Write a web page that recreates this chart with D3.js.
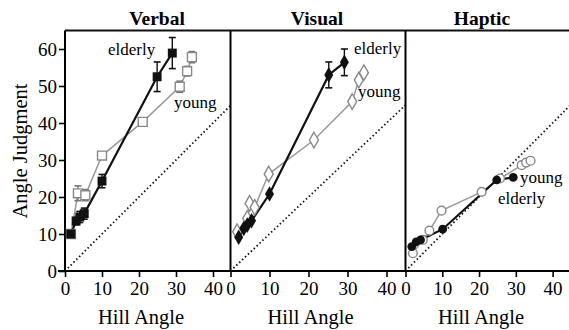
<!DOCTYPE html>
<html>
<head>
<meta charset="utf-8">
<script src="https://cdn.jsdelivr.net/npm/d3@7"></script>
<style>
  body { margin: 0; background: #fff; }
  text { font-family: "Liberation Serif", "Times New Roman", serif; }
</style>
</head>
<body>
<div id="chart"></div>
<script>
// panel titles and ticks
var panelTitles = ["Verbal", "Visual", "Haptic"];
var yTicks = [0, 10, 20, 30, 40, 50, 60];
var xTicks = [0, 10, 20, 30, 40];

// verbal
var verbalOldHill = [1.6, 3, 4, 5.2, 10, 24.9, 29];
var verbalOldJudg = [10, 13.5, 14.6, 15.5, 24.3, 52.5, 58.9];
var verbalOldErr = [0.5, 1, 1.5, 1.5, 1.8, 4, 4.2];
var verbalYoungHill = [1.6, 3.5, 5.5, 10, 21, 31, 33, 34.3];
var verbalYoungJudg = [10, 21, 20.5, 31.2, 40.3, 49.8, 54, 57.8];
var verbalYoungErr = [0.5, 2, 1.5, 1, 0.8, 1.5, 1.3, 1.5];

// visual
var visualOldHill = [2.1, 3.4, 4.3, 5.4, 10, 25.2, 29.2];
var visualOldJudg = [9.1, 11.5, 12.4, 13.6, 20.8, 53, 56.4];
var visualOldErr = [0, 0, 0, 0, 0, 3.5, 3.6];
var visualYoungHill = [1.7, 4.3, 4.9, 6.2, 9.8, 21.4, 31.2, 32.9, 34.2];
var visualYoungJudg = [10.6, 14.2, 18.3, 17.2, 26.2, 35.4, 45.8, 51.6, 53.6];

// haptic
var hapticOldHill = [1.7, 2.9, 4.1, 10.1, 24.8, 29.3];
var hapticOldJudg = [6.6, 7.9, 8.4, 11.3, 24.6, 25.3];
var hapticYoungHill = [2, 4.7, 6.5, 9.8, 20.7, 25.7, 31.6, 32.8, 34];
var hapticYoungJudg = [4.8, 8.4, 10.9, 16.3, 21.4, 25, 28.6, 29.3, 29.8];

var svgWidth = 569, svgHeight = 330;
var svg = d3.select("#chart").append("svg")
    .attr("width", svgWidth)
    .attr("height", svgHeight);

var top0 = 30.5, bottom0 = 271;
var yScale = d3.scaleLinear().domain([0, 65]).range([bottom0, top0]);

function zip(xs, ys, es) {
    return xs.map(function(x, i) {
        return {x: x, y: ys[i], e: es ? es[i] : 0};
    });
}

var panels = [
    {title: panelTitles[0], x0: 65, x1: 231.5, titleX: 157,
     old: zip(verbalOldHill, verbalOldJudg, verbalOldErr),
     young: zip(verbalYoungHill, verbalYoungJudg, verbalYoungErr),
     oldShape: d3.symbolSquare, youngShape: d3.symbolSquare, oldSize: 80, youngSize: 80,
     labels: [{t: "elderly", x: 108, y: 55}, {t: "young", x: 174, y: 108}]},
    {title: panelTitles[1], x0: 230.5, x1: 406, titleX: 317,
     old: zip(visualOldHill, visualOldJudg, visualOldErr),
     young: zip(visualYoungHill, visualYoungJudg, null),
     oldShape: d3.symbolDiamond, youngShape: d3.symbolDiamond, oldSize: 70, youngSize: 70,
     labels: [{t: "elderly", x: 354, y: 54}, {t: "young", x: 358, y: 97}]},
    {title: panelTitles[2], x0: 405.5, x1: 571, titleX: 482,
     old: zip(hapticOldHill, hapticOldJudg, null),
     young: zip(hapticYoungHill, hapticYoungJudg, null),
     oldShape: d3.symbolCircle, youngShape: d3.symbolCircle, oldSize: 60, youngSize: 60,
     labels: [{t: "young", x: 520, y: 183}, {t: "elderly", x: 498, y: 204}]}
];

// frame: top line and bottom axis across all panels
svg.append("line")
    .attr("x1", 65).attr("x2", svgWidth).attr("y1", top0).attr("y2", top0)
    .attr("stroke", "#111").attr("stroke-width", 1.8);
svg.append("line")
    .attr("x1", 58).attr("x2", svgWidth).attr("y1", bottom0).attr("y2", bottom0)
    .attr("stroke", "#000").attr("stroke-width", 2);

// y axis ticks on the first panel
var yAxis = svg.append("g")
    .attr("transform", "translate(65,0)")
    .call(d3.axisLeft(yScale).tickValues(yTicks).tickSize(6).tickPadding(2));
yAxis.select(".domain").remove();
yAxis.selectAll("line").attr("stroke", "#000").attr("stroke-width", 1.6);
yAxis.selectAll("text").attr("font-size", 19).attr("fill", "#000")
    .style("font-family", "Liberation Serif");

svg.append("text")
    .attr("transform", "translate(20,151) rotate(-90)")
    .attr("text-anchor", "middle")
    .attr("dy", "0.35em")
    .attr("font-size", 20.5)
    .attr("fill", "#000")
    .text("Angle Judgment");

var line = d3.line();

panels.forEach(function(p) {
    var xScale = d3.scaleLinear().domain([0, 45]).range([p.x0, p.x1]);
    var g = svg.append("g");

    // left border of panel
    g.append("line")
        .attr("x1", p.x0).attr("x2", p.x0).attr("y1", top0).attr("y2", bottom0)
        .attr("stroke", "#000").attr("stroke-width", 2);

    // x axis ticks
    var xa = g.append("g")
        .attr("transform", "translate(0," + bottom0 + ")")
        .call(d3.axisBottom(xScale).tickValues(xTicks).tickSize(6).tickPadding(5));
    xa.select(".domain").remove();
    xa.selectAll("line").attr("stroke", "#000").attr("stroke-width", 1.6);
    xa.selectAll("text").attr("font-size", 19).attr("fill", "#000")
        .style("font-family", "Liberation Serif");

    g.append("text")
        .attr("x", (xScale(0) + xScale(40)) / 2 + 2)
        .attr("y", 324)
        .attr("text-anchor", "middle")
        .attr("font-size", 20.5)
        .attr("fill", "#000")
        .text("Hill Angle");

    g.append("text")
        .attr("x", p.titleX)
        .attr("y", 25)
        .attr("text-anchor", "middle")
        .attr("font-size", 19.5)
        .attr("font-weight", "bold")
        .attr("fill", "#000")
        .text(p.title);

    // clip for diagonal
    var clipId = "clip" + p.title;
    svg.append("clipPath").attr("id", clipId)
        .append("rect")
        .attr("x", p.x0).attr("y", top0)
        .attr("width", p.x1 - p.x0).attr("height", bottom0 - top0);

    // dotted identity line
    g.append("path")
        .attr("clip-path", "url(#" + clipId + ")")
        .attr("d", line([[xScale(0), yScale(0)], [xScale(45), yScale(45)]]))
        .attr("stroke", "#111")
        .attr("stroke-width", 1.8)
        .attr("stroke-dasharray", "1.5,2.5")
        .attr("fill", "none");

    // young series (gray, open)
    g.append("path")
        .attr("d", line(p.young.map(function(d) { return [xScale(d.x), yScale(d.y)]; })))
        .attr("stroke", "#999").attr("stroke-width", 1.5).attr("fill", "none");

    // elderly series (black, filled)
    g.append("path")
        .attr("d", line(p.old.map(function(d) { return [xScale(d.x), yScale(d.y)]; })))
        .attr("stroke", "#111").attr("stroke-width", 2.2).attr("fill", "none");

    // error bars
    function errBars(data, color) {
        var eb = g.selectAll(null).data(data.filter(function(d) { return d.e > 0.6; })).enter().append("g");
        eb.append("line")
            .attr("x1", function(d) { return xScale(d.x); })
            .attr("x2", function(d) { return xScale(d.x); })
            .attr("y1", function(d) { return yScale(d.y + d.e); })
            .attr("y2", function(d) { return yScale(d.y - d.e); })
            .attr("stroke", color).attr("stroke-width", 1.4);
        [1, -1].forEach(function(s) {
            eb.append("line")
                .attr("x1", function(d) { return xScale(d.x) - 3.5; })
                .attr("x2", function(d) { return xScale(d.x) + 3.5; })
                .attr("y1", function(d) { return yScale(d.y + s * d.e); })
                .attr("y2", function(d) { return yScale(d.y + s * d.e); })
                .attr("stroke", color).attr("stroke-width", 1.6);
        });
    }
    errBars(p.young, "#777");
    errBars(p.old, "#111");

    g.selectAll(null).data(p.young).enter().append("path")
        .attr("d", d3.symbol().type(p.youngShape).size(p.youngSize))
        .attr("transform", function(d) { return "translate(" + xScale(d.x) + "," + yScale(d.y) + ")"; })
        .attr("fill", "#fff")
        .attr("stroke", "#888")
        .attr("stroke-width", 1.4);

    g.selectAll(null).data(p.old).enter().append("path")
        .attr("d", d3.symbol().type(p.oldShape).size(p.oldSize))
        .attr("transform", function(d) { return "translate(" + xScale(d.x) + "," + yScale(d.y) + ")"; })
        .attr("fill", "#111");

    // series labels
    g.selectAll(null).data(p.labels).enter().append("text")
        .attr("x", function(d) { return d.x; })
        .attr("y", function(d) { return d.y; })
        .attr("font-size", 17)
        .attr("fill", "#000")
        .text(function(d) { return d.t; });
});
</script>
</body>
</html>
